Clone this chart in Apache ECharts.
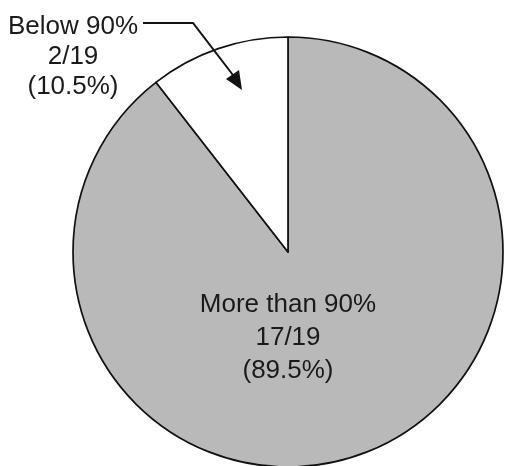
<!DOCTYPE html>
<html>
<head>
<meta charset="utf-8">
<script src="https://cdn.jsdelivr.net/npm/echarts@6/dist/echarts.min.js"></script>
<style>
  html, body { margin: 0; padding: 0; background: #fff; }
  #main { width: 508px; height: 466px; }
</style>
</head>
<body>
<div id="main"></div>
<script>
// slices, in drawing order (clockwise from 12 o'clock)
var names = ['More than 90%', 'Below 90%'];
var counts = [17, 2];
var colors = ['#b9b9b9', '#ffffff'];
var total = counts.reduce(function (a, b) { return a + b; }, 0);

var chart = echarts.init(document.getElementById('main'));

function fmt(p) {
  return p.name + '\n' + p.value + '/' + total + '\n(' + (p.value / total * 100).toFixed(1) + '%)';
}

var pieData = names.map(function (n, i) {
  var d = { name: n, value: counts[i], itemStyle: { color: colors[i] } };
  if (i === 0) {
    d.label = { position: 'center', offset: [0, 86], lineHeight: 33 };
  } else {
    d.label = { position: 'outside', lineHeight: 30 };
    d.labelLine = { show: false };
  }
  return d;
});

var option = {
  backgroundColor: '#fff',
  animation: false,
  series: [{
    type: 'pie',
    center: [288, 252],
    radius: 215,
    startAngle: 90,
    clockwise: true,
    avoidLabelOverlap: false,
    itemStyle: { borderColor: '#111', borderWidth: 1.7 },
    label: {
      formatter: fmt,
      fontFamily: 'Liberation Sans, Arial, sans-serif',
      fontSize: 26,
      color: '#1a1a1a',
      align: 'center'
    },
    labelLayout: function (params) {
      if (params.dataIndex === 1) {
        return { x: 73, y: 57, align: 'center', verticalAlign: 'middle' };
      }
    },
    emphasis: { disabled: true },
    data: pieData
  }],
  // leader arrow for the small slice
  graphic: [{
    type: 'polyline',
    z: 100,
    shape: { points: [[143, 23], [193, 23], [236, 79]] },
    style: { stroke: '#111', lineWidth: 2, fill: null }
  }, {
    type: 'polygon',
    z: 100,
    shape: { points: [[242, 90], [226, 79], [239, 70]] },
    style: { fill: '#111' }
  }]
};

chart.setOption(option);
</script>
</body>
</html>
